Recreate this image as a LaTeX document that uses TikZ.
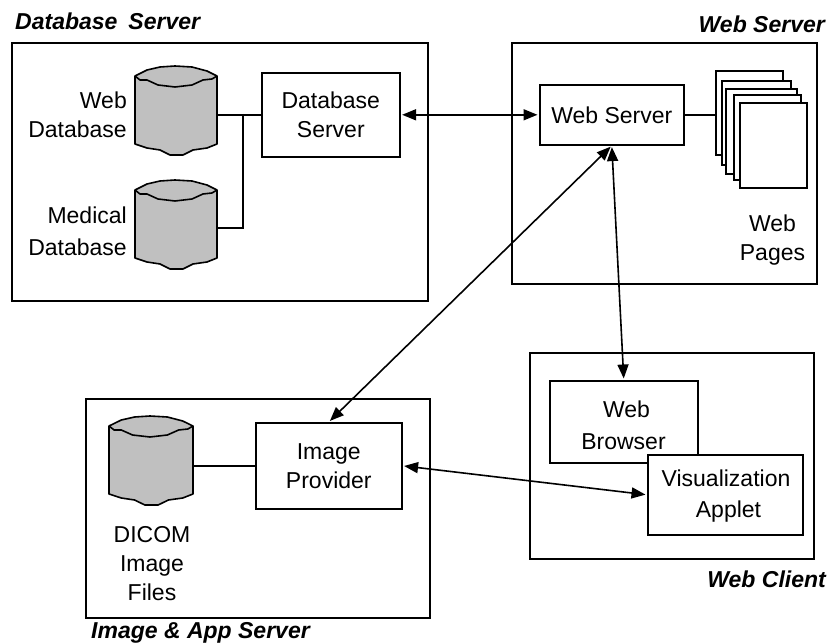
\documentclass[tikz,border=0pt]{standalone}
\usepackage{fontspec}
\setmainfont{Liberation Sans}
\usetikzlibrary{arrows.meta}
\tikzset{
  lw/.style={line width=1.6pt},
  outerbox/.style={draw,lw,fill=white,inner sep=0pt},
  compbox/.style={draw,lw,fill=white,inner sep=0pt,align=center,font=\fontsize{23}{29}\selectfont},
  sheet/.style={draw,lw,fill=white},
  dbbody/.style={draw,lw,fill=dbgray,line join=round},
  anchorbox/.style={inner sep=0pt,minimum width=82pt,minimum height=89pt},
  plain/.style={inner sep=0pt,font=\fontsize{23}{29}\selectfont},
  title/.style={inner sep=0pt,font=\fontsize{23}{27}\selectfont\bfseries\itshape},
  link/.style={lw},
  biarrow/.style={lw,{Triangle[length=14pt,width=11pt]}-{Triangle[length=14pt,width=11pt]},shorten <=1.5pt,shorten >=1.5pt}
}
\definecolor{dbgray}{HTML}{C0C0C0}
\newcommand{\dbcyl}[3]{%
  \begin{scope}[shift={(#1,#2)},xscale=#3]
    \path[dbbody] (0,10) -- (12,4) -- (25,1) -- (40,0) -- (57,1) -- (72,5) -- (82,10)
      -- (82,78) -- (72,82) -- (58,84) -- (48,89) -- (35,89) -- (25,84) -- (12,82) -- (0,78) -- cycle;
    \path[draw,lw,line join=round] (0,10) -- (5,14) -- (12,14) -- (23,19) -- (40,21) -- (57,19) -- (68,14) -- (77,13) -- (82,10);
  \end{scope}}
\newcommand{\boxat}[6]{% style, name, x1, y1, x2, y2 come from the node options
  \node[#1,anchor=north west,minimum width=#5pt-#3pt,minimum height=#6pt-#4pt] (#2) at (#3,#4)}
\begin{document}
\begin{tikzpicture}[x=1pt,y=-1pt]
\useasboundingbox (0,0) rectangle (828,644);
% outer boxes
\boxat{outerbox}{dbouter}{11}{42}{427}{300} {};
\boxat{outerbox}{wsouter}{511}{42}{816}{283} {};
\boxat{outerbox}{clouter}{529}{352}{813}{558} {};
\boxat{outerbox}{imouter}{85}{398}{429}{617} {};
% titles
\node[title,anchor=base west] (t1) at (15,30) {Database\hspace{0.2em} Server};
\node[title,anchor=base east] (t2) at (825,33) {Web Server};
\node[title,anchor=base east] (t3) at (826,587) {Web Client};
\node[title,anchor=base west] (t4) at (91,638.5) {Image \& App Server};
% database server
\dbcyl{135}{66}{1}
\dbcyl{135}{180}{1}
\node[anchorbox] (webdb) at (176,110.5) {};
\node[anchorbox] (meddb) at (176,224.5) {};
\boxat{compbox}{dbsrv}{261}{72}{399}{156} {Database\\Server};
\node[plain,align=right,anchor=east] (lwebdb) at (127,114.5) {Web\\Database};
\node[plain,align=right,anchor=east,font=\fontsize{23}{32}\selectfont] (lmeddb) at (127,231) {Medical\\Database};
\coordinate (junction) at (243,114);
\coordinate (medbend) at (243,228);
\coordinate (medtap) at (217,228);
\draw[link] (webdb.east |- dbsrv.west) -- (dbsrv.west);
\draw[link] (junction) -- (medbend) -- (medtap);
% web server
\boxat{compbox}{websrv}{539}{84}{683}{144} {Web Server};
\boxat{sheet}{p1}{715}{70}{782}{154} {};
\boxat{sheet}{p2}{721}{80}{790}{164} {};
\boxat{sheet}{p3}{725}{88}{796}{173} {};
\boxat{sheet}{p4}{733}{94}{800}{179} {};
\boxat{sheet}{p5}{739}{102}{806}{187} {};
\node[plain,align=center] (lpages) at (772.5,240.5) {Web\\Pages};
\draw[link] (websrv.east) -- (p1.west |- websrv.east);
% client
\boxat{compbox}{browser}{549}{380}{697}{462} {};
\node[plain,align=center,font=\fontsize{23}{32}\selectfont] (lbrowser) at (623.5,425) {\hspace*{6pt}Web\\Browser};
\boxat{compbox}{applet}{647}{454}{802}{534} {};
\node[plain,align=center,font=\fontsize{23}{31}\selectfont] (lapplet) at (726,496.5) {Visualization\\\hspace*{5pt}Applet};
% image server
\dbcyl{109}{416}{1.024}
\node[anchorbox,minimum width=84pt] (dicom) at (151,460) {};
\boxat{compbox}{provider}{255}{422}{401}{508} {Image\\Provider};
\node[plain,align=center] (ldicom) at (152,564) {DICOM\\Image\\Files};
\draw[link] (dicom.east |- provider.west) -- (provider.west);
% arrows
\draw[biarrow] (dbsrv.east) -- (websrv.west);
\draw[biarrow] (websrv.south) -- (browser.north);
\draw[biarrow] (websrv.south) -- (provider.north);
\draw[biarrow] (provider.east) -- (applet.west);
\end{tikzpicture}
\end{document}
